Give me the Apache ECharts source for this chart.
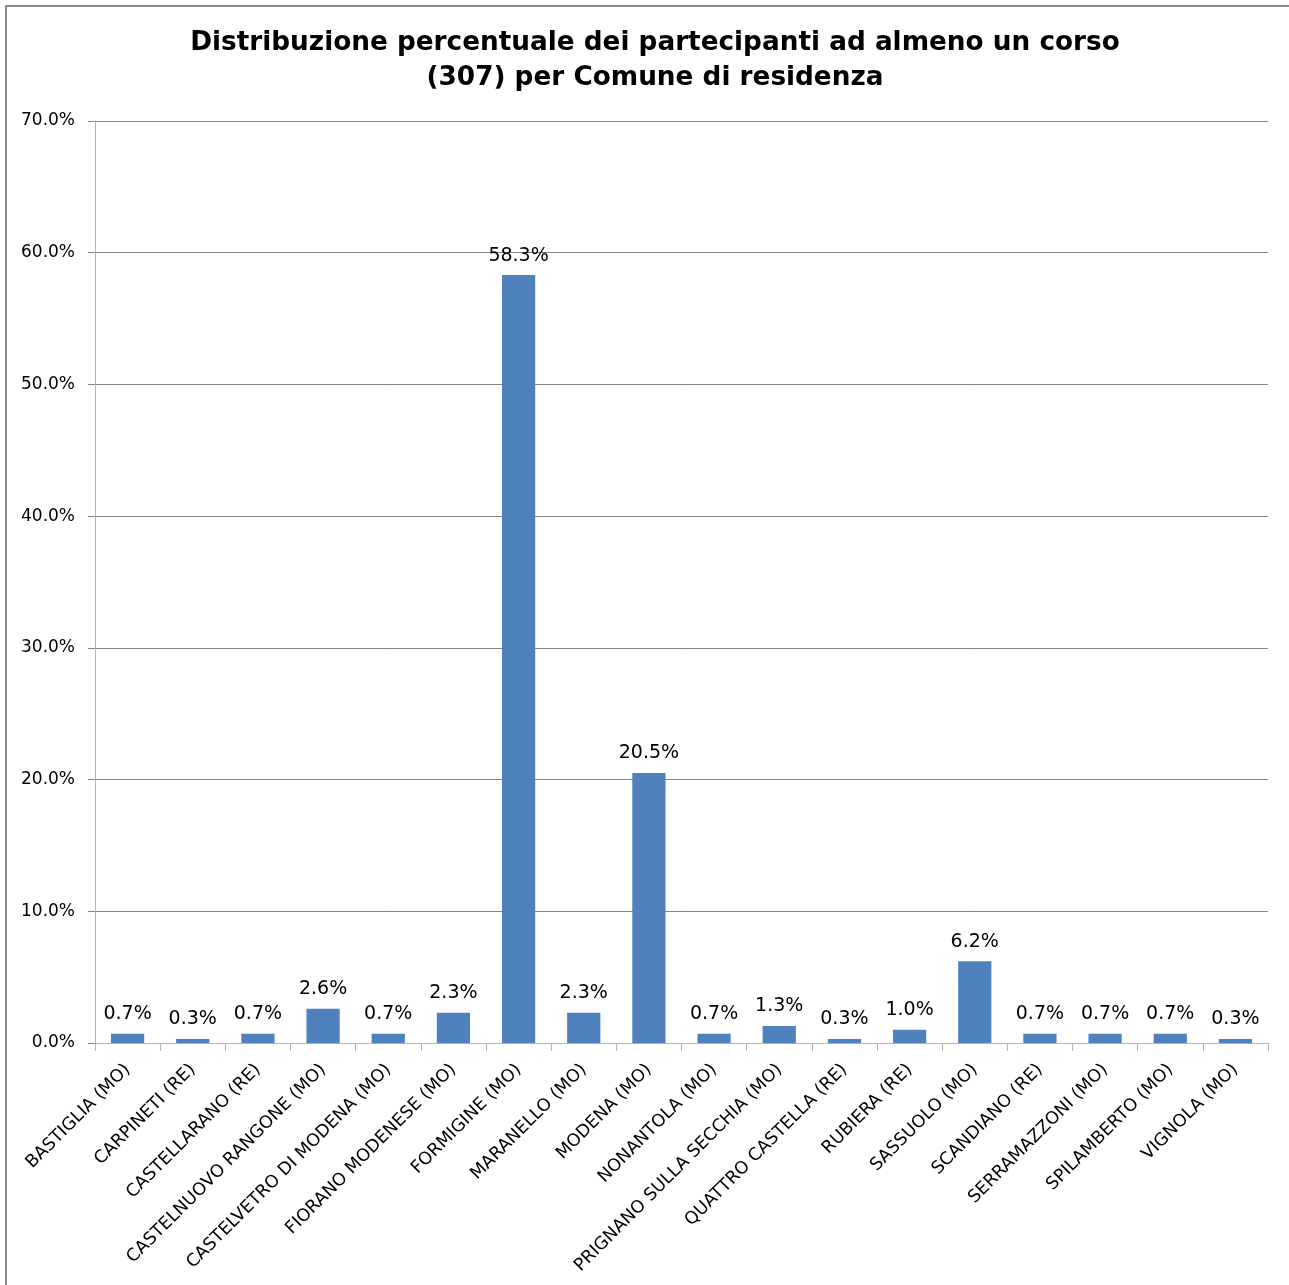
<!DOCTYPE html>
<html>
<head>
<meta charset="utf-8">
<title>Partecipanti per Comune</title>
<script src="https://cdn.jsdelivr.net/npm/echarts@6/dist/echarts.min.js"></script>
<style>
  html, body { margin: 0; padding: 0; background: #fff; }
  #chart { width: 1289px; height: 1285px; }
</style>
</head>
<body>
<div id="chart"></div>
<script>
// comuni di residenza
const comuni = [
  'BASTIGLIA (MO)', 'CARPINETI (RE)', 'CASTELLARANO (RE)', 'CASTELNUOVO RANGONE (MO)',
  'CASTELVETRO DI MODENA (MO)', 'FIORANO MODENESE (MO)', 'FORMIGINE (MO)', 'MARANELLO (MO)',
  'MODENA (MO)', 'NONANTOLA (MO)', 'PRIGNANO SULLA SECCHIA (MO)', 'QUATTRO CASTELLA (RE)',
  'RUBIERA (RE)', 'SASSUOLO (MO)', 'SCANDIANO (RE)', 'SERRAMAZZONI (MO)',
  'SPILAMBERTO (MO)', 'VIGNOLA (MO)'
]
// percentuali
const percentuali = [0.7, 0.3, 0.7, 2.6, 0.7, 2.3, 58.3, 2.3, 20.5, 0.7, 1.3, 0.3, 1.0, 6.2, 0.7, 0.7, 0.7, 0.3]
// asse y
const yMin = 0
const yMax = 70
const yStep = 10

const font = 'DejaVu Sans'
const grigio = '#868686'
const grigioChiaro = '#b3b3b3'

const chart = echarts.init(document.getElementById('chart'))
chart.setOption({
  animation: false,
  backgroundColor: '#fff',
  title: {
    text: 'Distribuzione percentuale dei partecipanti ad almeno un corso\n(307) per Comune di residenza',
    left: 650,
    top: 21,
    textAlign: 'center',
    textStyle: {
      fontFamily: font,
      fontWeight: 'bold',
      fontSize: 26.3,
      lineHeight: 35,
      color: '#000'
    }
  },
  // cornice grigia (solo lati sinistro e superiore visibili)
  graphic: [{
    type: 'polyline',
    shape: { points: [[6, 1400], [6, 6], [1400, 6]] },
    style: { fill: 'none', stroke: '#8a8a8a', lineWidth: 2 },
    silent: true
  }],
  grid: {
    left: 95,
    right: 21,
    top: 121,
    bottom: 242,
    containLabel: false
  },
  xAxis: {
    type: 'category',
    data: comuni,
    axisLine: { lineStyle: { color: grigioChiaro, width: 1 } },
    axisTick: { show: true, length: 8, alignWithLabel: false, lineStyle: { color: grigioChiaro } },
    axisLabel: {
      interval: 0,
      rotate: 45,
      margin: 24,
      fontFamily: font,
      fontSize: 17.5,
      color: '#000'
    }
  },
  yAxis: {
    type: 'value',
    min: yMin,
    max: yMax,
    interval: yStep,
    axisLine: { show: true, lineStyle: { color: grigioChiaro, width: 1 } },
    axisTick: { show: true, length: 7, lineStyle: { color: grigio } },
    splitLine: { lineStyle: { color: grigio, width: 1 } },
    axisLabel: {
      margin: 20,
      padding: [5, 0, 0, 0],
      fontFamily: font,
      fontSize: 17,
      color: '#000',
      formatter: v => v.toFixed(1) + '%'
    }
  },
  series: [{
    type: 'bar',
    data: percentuali,
    barWidth: '51%',
    itemStyle: { color: '#4f81bd' },
    label: {
      show: true,
      position: 'top',
      distance: 10,
      fontFamily: font,
      fontSize: 19,
      color: '#000',
      formatter: p => p.value.toFixed(1) + '%'
    }
  }]
})
</script>
</body>
</html>
